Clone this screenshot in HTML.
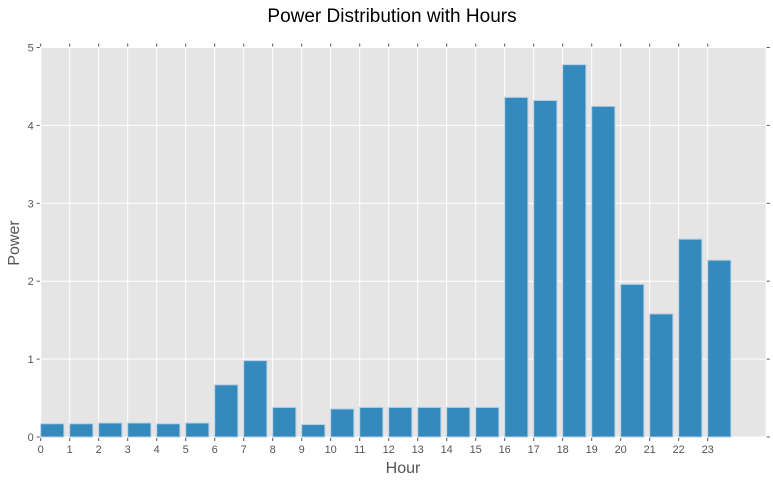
<!DOCTYPE html>
<html><head><meta charset="utf-8"><style>
body{margin:0;background:#fff;width:773px;height:483px;overflow:hidden}
text{font-family:"Liberation Sans",sans-serif}
</style></head><body>
<svg id="chart" width="773" height="483" xmlns="http://www.w3.org/2000/svg">
<text x="392" y="22" text-anchor="middle" font-size="19" fill="#000">Power Distribution with Hours</text>
<rect x="40.7" y="47.5" width="725" height="389.5" fill="#E5E5E5"/>
<g id="grid"></g><g id="bars"></g><g id="axes"></g>
<text x="403" y="473" text-anchor="middle" font-size="16" fill="#555">Hour</text>
<text transform="translate(19,243) rotate(-90)" text-anchor="middle" font-size="16" fill="#555">Power</text>
</svg>
<script>
const hours=[0,1,2,3,4,5,6,7,8,9,10,11,12,13,14,15,16,17,18,19,20,21,22,23];
const power=[0.17,0.17,0.18,0.18,0.17,0.18,0.67,0.98,0.38,0.16,0.36,0.38,0.38,0.38,0.38,0.38,4.36,4.32,4.78,4.245,1.96,1.58,2.54,2.27];
const yTicks=[0,1,2,3,4,5];
const NS="http://www.w3.org/2000/svg";
const x0=40.7,x1=765.7,y0=437,y1=47.5,xmax=25,ymax=5;
const X=v=>x0+(x1-x0)*v/xmax, Y=v=>y0-(y0-y1)*v/ymax;
function mk(t,a,p){const e=document.createElementNS(NS,t);for(const k in a)e.setAttribute(k,a[k]);p.appendChild(e);return e;}
const g=document.getElementById('grid'),b=document.getElementById('bars'),ax=document.getElementById('axes');
hours.forEach(h=>{
 const l=mk('line',{x1:X(h),x2:X(h),y1:y1,y2:y0,stroke:'#fff','stroke-width':1},g);
 
 
 const t1=mk('line',{x1:X(h),x2:X(h),y1:y0+1,y2:y0+4,stroke:'#555'},ax);
 
 
 const t2=mk('line',{x1:X(h),x2:X(h),y1:y1-1,y2:y1-4,stroke:'#555'},ax);
 
 
 const tx=mk('text',{x:X(h),y:y0+16,'text-anchor':'middle','font-size':11,fill:'#555'},ax);
 tx.textContent=h;
 
 
});
yTicks.forEach(v=>{
 const l=mk('line',{x1:x0,x2:x1,y1:Y(v),y2:Y(v),stroke:'#fff','stroke-width':1},g);
 
 
 const t1=mk('line',{x1:x0-1,x2:x0-4,y1:Y(v),y2:Y(v),stroke:'#555'},ax);
 
 
 const t2=mk('line',{x1:x1+1,x2:x1+4,y1:Y(v),y2:Y(v),stroke:'#555'},ax);
 
 
 const tx=mk('text',{x:x0-7,y:Y(v)+4,'text-anchor':'end','font-size':11,fill:'#555'},ax);
 tx.textContent=v;
 
 
});
hours.forEach((h,i)=>{
 const r=mk('rect',{x:X(h),y:Y(power[i]),width:X(0.8)-X(0),height:Y(0)-Y(power[i]),fill:'#348ABD',stroke:'#B8D0E2','stroke-width':1},b);
 
 
});
</script>
</body></html>
